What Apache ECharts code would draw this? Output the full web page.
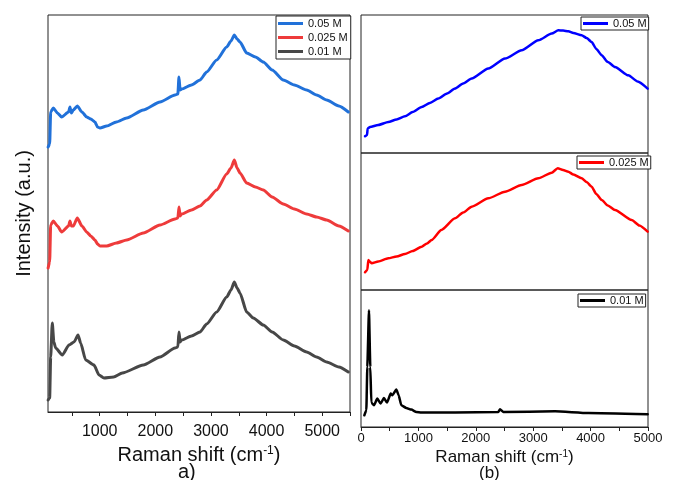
<!DOCTYPE html>
<html>
<head>
<meta charset="utf-8">
<script src="https://cdn.jsdelivr.net/npm/echarts@6/dist/echarts.min.js"></script>
<style>
  html, body { margin: 0; padding: 0; background: #fff; }
  #chart { width: 674px; height: 480px; }
</style>
</head>
<body>
<div id="chart"></div>
<script>
// ---- Panel a): offset Raman spectra (arbitrary intensity units) ----
const shiftA005 = [72, 100, 118, 165, 240, 316, 440, 465, 490, 525, 597, 680, 766, 840, 915, 960, 1005, 1125, 1300, 1485, 1784, 2084, 2354, 2405, 2425, 2445, 2474, 2650, 2803, 2923, 3103, 3283, 3360, 3420, 3470, 3522, 3642, 3800, 3941, 4100, 4301, 4500, 4721, 4900, 5081, 5300, 5470];
const intA005   = [265, 268, 300, 304, 299, 295, 300, 305, 299, 302, 306, 300, 295, 293, 290, 285, 284, 286, 290, 294, 302, 310, 317, 318, 335, 322, 323, 327, 332, 340, 352, 365, 371, 377, 373, 370, 359, 355, 350, 342, 332, 327, 322, 317, 312, 306, 300];

const shiftA0025 = [72, 100, 118, 165, 240, 316, 440, 465, 490, 525, 597, 680, 766, 840, 915, 960, 1005, 1125, 1300, 1485, 1784, 2084, 2354, 2405, 2425, 2445, 2474, 2650, 2803, 2923, 3103, 3283, 3360, 3420, 3470, 3522, 3642, 3800, 3941, 4100, 4301, 4500, 4721, 4900, 5081, 5300, 5470];
const intA0025   = [144, 150, 187, 191, 186, 180, 186, 191, 186, 186, 194, 186, 180, 176, 172, 168, 166, 166, 169, 172, 179, 187, 193, 194, 205, 196, 198, 202, 206, 212, 222, 238, 244, 252, 244, 239, 229, 225, 222, 215, 208, 203, 198, 195, 192, 186, 181];

const shiftA001 = [72, 100, 118, 147, 175, 208, 327, 448, 538, 610, 657, 747, 897, 987, 1077, 1250, 1406, 1784, 2084, 2354, 2405, 2425, 2445, 2474, 2650, 2803, 2923, 3103, 3283, 3360, 3420, 3470, 3522, 3642, 3761, 3941, 4100, 4301, 4500, 4721, 4900, 5081, 5300, 5470];
const intA001   = [12, 14, 55, 89, 70, 64, 57, 67, 70, 77, 69, 52, 47, 37, 34, 35, 39, 47, 55, 64, 65, 80, 70, 72, 76, 80, 88, 100, 115, 122, 130, 124, 119, 100, 94, 87, 80, 72, 66, 60, 55, 50, 45, 40];

// ---- Panel (b): individual spectra ----
const shiftB005 = [70, 105, 116, 157, 300, 476, 620, 766, 900, 1057, 1200, 1347, 1500, 1638, 1780, 1928, 2218, 2509, 2799, 3089, 3322, 3438, 3520, 3612, 3700, 3844, 3930, 4018, 4100, 4193, 4300, 4425, 4657, 4820, 4994];
const intB005   = [16.7, 18, 24.4, 26, 28, 31, 33.5, 36.7, 41, 46, 50, 54.4, 59.5, 64.4, 69.5, 74.4, 84.4, 94.4, 102.7, 112.7, 119.4, 122.7, 122.5, 121.7, 120, 117.7, 115, 111, 104, 97.7, 91, 86, 77.7, 71.5, 64.4];

const shiftB0025 = [70, 110, 128, 160, 186, 300, 476, 620, 766, 900, 1057, 1150, 1231, 1400, 1638, 1780, 1928, 2218, 2509, 2799, 3089, 3322, 3427, 3520, 3612, 3700, 3844, 3930, 4018, 4100, 4193, 4300, 4425, 4716, 4850, 4994];
const intB0025   = [17.7, 20, 30, 28, 26.7, 28.5, 31.7, 33.5, 36, 39, 43.3, 46.5, 50, 60, 71.7, 77.5, 83.3, 91.7, 98.3, 105, 111.7, 117.3, 121.7, 120, 118.3, 115.5, 111.7, 108, 103.3, 96, 90, 84.5, 80, 70, 64.5, 58.3];

const shiftB001 = [58, 93, 110, 139, 162, 180, 226, 284, 342, 400, 453, 517, 546, 616, 656, 702, 789, 877, 964, 1051, 1638, 2392, 2422, 2480, 3380, 3961, 4994];
const intB001   = [11.7, 16.7, 60, 116.7, 60, 24.4, 21.7, 28.4, 23.4, 29, 24.4, 33.4, 31.7, 37.4, 31.7, 21.7, 19, 17.4, 15, 14.4, 14.4, 15, 17.7, 15, 15.7, 14, 12.7];

// Tick values
const ticksA = [500, 1000, 1500, 2000, 2500, 3000, 3500, 4000, 4500, 5000, 5500];
const labelsA = [1000, 2000, 3000, 4000, 5000];
const ticksB = [0, 500, 1000, 1500, 2000, 2500, 3000, 3500, 4000, 4500, 5000];
const labelsB = [0, 1000, 2000, 3000, 4000, 5000];

const labelA = ['0.05 M', '0.025 M', '0.01 M'];

const zip = (xs, ys) => xs.map((x, i) => [x, ys[i]]);
const FONT = '"Liberation Sans", Arial, Helvetica, sans-serif';

const chart = echarts.init(document.getElementById('chart'));

const gridBase = { show: true, borderColor: '#222', borderWidth: 1, containLabel: false, outerBoundsMode: 'none' };

const hiddenX = (gi, max) => ({
  gridIndex: gi, type: 'value', min: 0, max: max,
  axisLine: { show: false }, axisTick: { show: false }, axisLabel: { show: false }, splitLine: { show: false }
});
const hiddenY = (gi, max) => ({
  gridIndex: gi, type: 'value', min: 0, max: max,
  axisLine: { show: false }, axisTick: { show: false }, axisLabel: { show: false }, splitLine: { show: false }
});

const ramanName = (size, supSize) => ({
  fontFamily: FONT, color: '#111',
  rich: {
    t: { fontSize: size, fontFamily: FONT, color: '#111' },
    s: { fontSize: supSize, fontFamily: FONT, color: '#111', verticalAlign: 'top' }
  }
});

const lineSeries = (name, xi, yi, data, color, width, smooth) => ({
  name: name, type: 'line', xAxisIndex: xi, yAxisIndex: yi,
  data: data, showSymbol: false, symbol: 'none',
  smooth: smooth, smoothMonotone: 'x',
  lineStyle: { color: color, width: width, join: 'round', cap: 'round' }, itemStyle: { color: color },
  animation: false
});

const legendBase = {
  orient: 'vertical', icon: 'rect', itemWidth: 25, itemHeight: 3,
  itemGap: 3, itemTextGap: 3, padding: [2, 3, 2, 2],
  borderColor: '#222', borderWidth: 1, backgroundColor: '#fff',
  selectedMode: false,
  textStyle: { fontSize: 11, fontFamily: FONT, color: '#111', lineHeight: 11 },
  formatter: n => n.slice(2)
};

const option = {
  backgroundColor: '#fff',
  animation: false,
  textStyle: { fontFamily: FONT },
  grid: [
    Object.assign({ left: 48, top: 15, width: 302, height: 397 }, gridBase),
    Object.assign({ left: 361, top: 15, width: 287, height: 138 }, gridBase),
    Object.assign({ left: 361, top: 153, width: 287, height: 137 }, gridBase),
    Object.assign({ left: 361, top: 290, width: 287, height: 137 }, gridBase)
  ],
  xAxis: [
    {
      gridIndex: 0, type: 'value', min: 70, max: 5500,
      axisLine: { show: true, lineStyle: { color: '#222', width: 1 } },
      axisTick: { show: true, inside: false, length: 4, customValues: ticksA, lineStyle: { color: '#222' } },
      axisLabel: { customValues: labelsA, fontSize: 16, color: '#111', margin: 12, fontFamily: FONT, formatter: v => String(v) },
      splitLine: { show: false },
      name: '{t|Raman shift (cm}{s|-1}{t|)}', nameLocation: 'middle', nameGap: 33,
      nameTextStyle: ramanName(20, 12)
    },
    hiddenX(1, 5000),
    hiddenX(2, 5000),
    {
      gridIndex: 3, type: 'value', min: 0, max: 5000,
      axisLine: { show: true, lineStyle: { color: '#222', width: 1 } },
      axisTick: { show: true, inside: false, length: 4, customValues: ticksB, lineStyle: { color: '#222' } },
      axisLabel: { customValues: labelsB, fontSize: 13, color: '#111', margin: 5, fontFamily: FONT, formatter: v => String(v) },
      splitLine: { show: false },
      name: '{t|Raman shift (cm}{s|-1}{t|)}', nameLocation: 'middle', nameGap: 22,
      nameTextStyle: ramanName(17, 10)
    }
  ],
  yAxis: [
    {
      gridIndex: 0, type: 'value', min: 0, max: 397,
      axisLine: { show: false }, axisTick: { show: false }, axisLabel: { show: false }, splitLine: { show: false },
      name: 'Intensity (a.u.)', nameLocation: 'middle', nameGap: 14, nameRotate: 90,
      nameTextStyle: { fontSize: 20, fontFamily: FONT, color: '#111' }
    },
    hiddenY(1, 138),
    hiddenY(2, 137),
    hiddenY(3, 137)
  ],
  legend: [
    Object.assign({}, legendBase, { left: 276, top: 16, data: ['a-0.05 M', 'a-0.025 M', 'a-0.01 M'] }),
    Object.assign({}, legendBase, { left: 581, top: 17, padding: [1, 2, 1, 2], data: ['b-0.05 M'] }),
    Object.assign({}, legendBase, { left: 577, top: 156, padding: [1, 2, 1, 2], data: ['b-0.025 M'] }),
    Object.assign({}, legendBase, { left: 578, top: 294, padding: [1, 2, 1, 2], data: ['b-0.01 M'] })
  ],
  graphic: [
    { type: 'text', left: 178, top: 462, style: { text: 'a)', fontSize: 20, fontFamily: FONT, fill: '#111' } },
    { type: 'text', left: 479, top: 465, style: { text: '(b)', fontSize: 17, fontFamily: FONT, fill: '#111' } }
  ],
  series: [
    lineSeries('a-' + labelA[0], 0, 0, zip(shiftA005, intA005), '#2171d9', 3, 0.2),
    lineSeries('a-' + labelA[1], 0, 0, zip(shiftA0025, intA0025), '#ee3b3b', 3, 0.2),
    lineSeries('a-' + labelA[2], 0, 0, zip(shiftA001, intA001), '#474747', 3, 0.2),
    lineSeries('b-' + labelA[0], 1, 1, zip(shiftB005, intB005), '#0000ff', 2.5, 0.2),
    lineSeries('b-' + labelA[1], 2, 2, zip(shiftB0025, intB0025), '#ff0000', 2.5, 0.2),
    lineSeries('b-' + labelA[2], 3, 3, zip(shiftB001, intB001), '#000000', 2.5, 0.15)
  ]
};

chart.setOption(option);
</script>
</body>
</html>
